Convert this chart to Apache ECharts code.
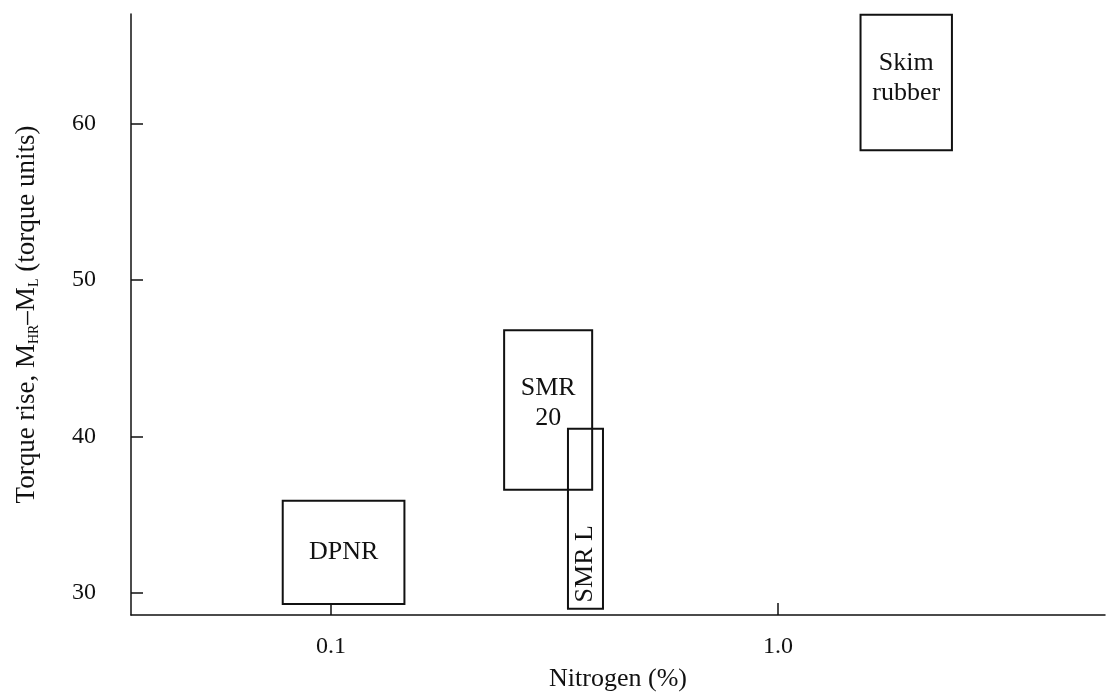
<!DOCTYPE html>
<html>
<head>
<meta charset="utf-8">
<script src="https://cdn.jsdelivr.net/npm/echarts@6/dist/echarts.min.js"></script>
<style>html,body{margin:0;padding:0;background:#fff;}#c{width:1109px;height:692px;}</style>
</head>
<body>
<div id="c"></div>
<script>
// Data
var names = ['DPNR', 'SMR\n20', 'SMR L', 'Skim\nrubber'];
var nitrogenLow  = [0.078, 0.244, 0.339, 1.53];
var nitrogenHigh = [0.146, 0.384, 0.406, 2.45];
var torqueLow    = [29.3, 36.6, 29.0, 58.3];
var torqueHigh   = [35.9, 46.8, 40.5, 66.95];
var xTicks = [0.1, 1.0];
var yTicks = [30, 40, 50, 60];

var FONT = '"Liberation Serif", "DejaVu Serif", serif';
// label placement styles per box (fraction of box height from top, rotation)
var labelStyle = {
  'DPNR': {fy: 0.5, rot: 0},
  'SMR\n20': {fy: 0.46, rot: 0},
  'SMR L': {fy: 0.75, rot: Math.PI / 2},
  'Skim\nrubber': {fy: 0.47, rot: 0}
};

var data = names.map(function (n, i) {
  return [nitrogenLow[i], nitrogenHigh[i], torqueLow[i], torqueHigh[i], i];
});

var chart = echarts.init(document.getElementById('c'), null, {renderer: 'canvas'});
chart.setOption({
  backgroundColor: '#fff',
  animation: false,
  grid: {left: 131, right: 4, top: 14, bottom: 77, containLabel: false, outerBoundsMode: 'none'},
  xAxis: {
    type: 'log',
    logBase: 10,
    min: 0.0357,
    max: 5.39,
    name: 'Nitrogen (%)',
    nameLocation: 'middle',
    nameGap: 51,
    nameTextStyle: {fontFamily: FONT, fontSize: 26, color: '#111'},
    axisLine: {show: true, lineStyle: {color: '#111', width: 1.5}},
    axisTick: {show: true, inside: true, length: 12, customValues: xTicks, lineStyle: {color: '#111', width: 1.5}},
    axisLabel: {customValues: xTicks, fontFamily: FONT, fontSize: 24, color: '#111', margin: 20,
      formatter: function (v) { return Number(v).toFixed(1); }},
    splitLine: {show: false},
    minorTick: {show: false}
  },
  yAxis: {
    type: 'value',
    min: 28.6,
    max: 67,
    name: 'Torque rise, M{sub|HR}–M{sub|L} (torque units)',
    nameLocation: 'middle',
    nameGap: 90,
    nameRotate: 90,
    nameTextStyle: {fontFamily: FONT, fontSize: 27, color: '#111',
      rich: {sub: {fontFamily: FONT, fontSize: 14, color: '#111', verticalAlign: 'bottom', padding: [14, 0, 0, 0]}}},
    axisLine: {show: true, lineStyle: {color: '#111', width: 1.5}},
    axisTick: {show: true, inside: true, length: 12, customValues: yTicks, lineStyle: {color: '#111', width: 1.5}},
    axisLabel: {customValues: yTicks, fontFamily: FONT, fontSize: 24, color: '#111', margin: 35},
    splitLine: {show: false}
  },
  series: [{
    type: 'custom',
    data: data,
    encode: {x: [0, 1], y: [2, 3]},
    renderItem: function (params, api) {
      var p1 = api.coord([api.value(0), api.value(3)]);
      var p2 = api.coord([api.value(1), api.value(2)]);
      var idx = api.value(4);
      var name = names[idx];
      var st = labelStyle[name];
      var cx = (p1[0] + p2[0]) / 2;
      var cy = p1[1] + (p2[1] - p1[1]) * st.fy;
      return {
        type: 'group',
        children: [{
          type: 'rect',
          shape: {x: p1[0], y: p1[1], width: p2[0] - p1[0], height: p2[1] - p1[1]},
          style: {fill: 'none', stroke: '#111', lineWidth: 2}
        }, {
          type: 'text',
          x: cx, y: cy, rotation: st.rot,
          style: {text: name, fill: '#111', font: '26px ' + FONT, align: 'center', verticalAlign: 'middle',
            textAlign: 'center', textVerticalAlign: 'middle', lineHeight: 30}
        }]
      };
    }
  }]
});
</script>
</body>
</html>
